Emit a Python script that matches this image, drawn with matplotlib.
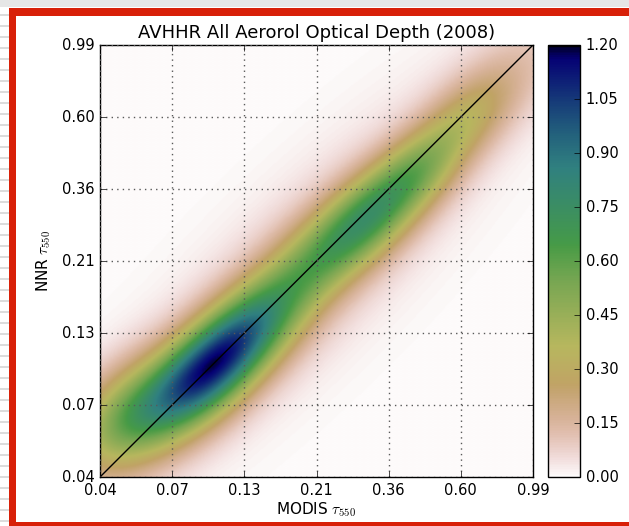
import numpy as np
import matplotlib
matplotlib.use("Agg")
import matplotlib.pyplot as plt
from matplotlib.patches import Rectangle

plt.style.use("classic")
plt.rcParams["font.family"] = ["DejaVu Sans"]
plt.rcParams["mathtext.fontset"] = "cm"

# ---- data ----
title = "AVHHR All Aerorol Optical Depth (2008)"
xlabel = r"MODIS $\tau_{550}$"
ylabel = r"NNR $\tau_{550}$"
tick_labels = ["0.04", "0.07", "0.13", "0.21", "0.36", "0.60", "0.99"]
cbar_ticks = [0.00, 0.15, 0.30, 0.45, 0.60, 0.75, 0.90, 1.05, 1.20]

# density field described as blobs along the 1:1 ridge (tau units)
modis_center = [0.048, 0.072, 0.102, 0.150, 0.213, 0.307, 0.439, 0.628, 0.895, 0.19]
nnr_center   = [0.063, 0.079, 0.101, 0.146, 0.213, 0.291, 0.405, 0.597, 0.851, 0.19]
peak_density = [0.40, 0.24, 0.93, 0.24, 0.32, 0.50, 0.36, 0.22, 0.08, 0.09]
along_width  = [0.30, 0.30, 0.38, 0.30, 0.30, 0.30, 0.28, 0.28, 0.35, 1.30]
across_width = [0.21, 0.21, 0.18, 0.19, 0.18, 0.17, 0.16, 0.16, 0.20, 0.36]

# ---- figure ----
W, H = 629, 526
fig = plt.figure(figsize=(W / 100, H / 100), dpi=100, facecolor="white")

# screenshot frame
fig.patches.append(Rectangle((0, 0), 1, 1, transform=fig.transFigure,
                             facecolor="white", edgecolor="none", zorder=-10))
fig.patches.append(Rectangle((0, (H - 7) / H), 1, 7 / H, transform=fig.transFigure,
                             facecolor="#e6e6e6", edgecolor="none", zorder=-5))
for yy in np.arange(14, H, 11):
    fig.patches.append(Rectangle((0, (H - yy - 2) / H), 9 / W, 2 / H,
                                 transform=fig.transFigure,
                                 facecolor="#dcdcdc", edgecolor="none", zorder=-5))
red = "#d82008"
fig.patches.append(Rectangle((9 / W, (H - 16) / H), 1, 8 / H, transform=fig.transFigure,
                             facecolor=red, edgecolor="none", zorder=-4))
fig.patches.append(Rectangle((9 / W, 0), 7 / W, (H - 8) / H, transform=fig.transFigure,
                             facecolor=red, edgecolor="none", zorder=-4))
fig.patches.append(Rectangle((9 / W, 0), 1, 4 / H, transform=fig.transFigure,
                             facecolor=red, edgecolor="none", zorder=-4))

ax = fig.add_axes([100 / W, 49 / H, 433 / W, 432 / H])
cax = fig.add_axes([548 / W, 49 / H, 32 / W, 432 / H])

# build density on log(tau+0.01) grid
g = np.linspace(-3, 0, 400)
UX, UY = np.meshgrid(g, g)
S = (UX + UY) / np.sqrt(2)
T = (UY - UX) / np.sqrt(2)
Z = np.zeros_like(UX)
for mx, my, a, sa, sc in zip(modis_center, nnr_center, peak_density,
                             along_width, across_width):
    cx, cy = np.log(mx + 0.01), np.log(my + 0.01)
    cs, ct = (cx + cy) / np.sqrt(2), (cy - cx) / np.sqrt(2)
    Z += a * np.exp(-0.5 * (((S - cs) / sa) ** 2 + ((T - ct) / sc) ** 2))

im = ax.imshow(Z, extent=[-3, 0, -3, 0], origin="lower", cmap="gist_earth_r",
               vmin=0, vmax=1.2, aspect="auto", interpolation="bilinear")
ax.plot([-3, 0], [-3, 0], color="k", lw=1.0)

ticks = np.arange(-3, 0.01, 0.5)
ax.set_xticks(ticks)
ax.set_yticks(ticks)
ax.set_xticklabels(tick_labels)
ax.set_yticklabels(tick_labels)
ax.set_xlim(-3, 0)
ax.set_ylim(-3, 0)
ax.grid(True, color="0.35", linestyle=":", linewidth=1.0)
ax.tick_params(labelsize=10.5, direction="in", length=4)
ax.set_title(title, fontsize=13, pad=5)
ax.set_xlabel(xlabel, fontsize=11, labelpad=2)
ax.set_ylabel(ylabel, fontsize=11, labelpad=6)

cb = fig.colorbar(im, cax=cax, ticks=cbar_ticks, format="%.2f")
cb.ax.tick_params(labelsize=10.5, direction="in", length=4)

fig.savefig("out.png", dpi=100, facecolor="white")
